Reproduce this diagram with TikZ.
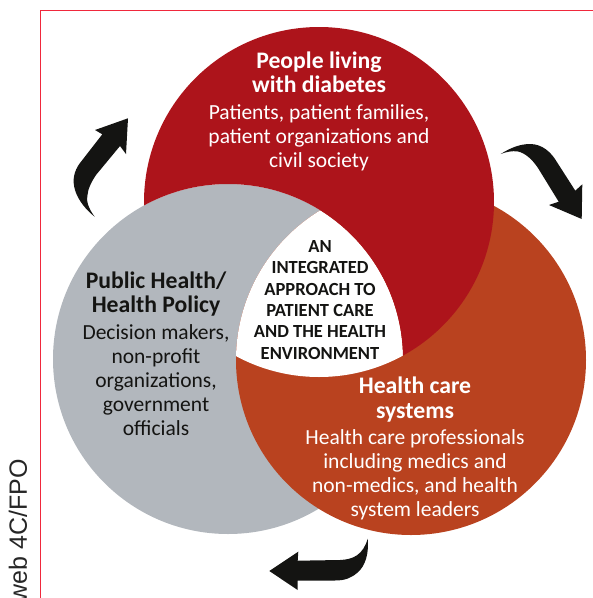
\documentclass[tikz,border=0pt]{standalone}
\usepackage{fontspec}
\setmainfont{Carlito}
\newfontfamily\arialfont{Liberation Sans}
\definecolor{cred}{HTML}{AD141B}
\definecolor{cgrey}{HTML}{B2B7BD}
\definecolor{corange}{HTML}{B9421F}
\definecolor{cblack}{HTML}{141412}
\definecolor{cborder}{HTML}{F0283C}
\tikzset{
  headtext/.style={align=center,anchor=base,inner sep=0pt,font=\fontsize{23.7}{24.4}\selectfont\bfseries},
  bodytext/.style={align=center,anchor=base,inner sep=0pt,font=\fontsize{21.5}{24}\selectfont},
  centertext/.style={align=center,anchor=base,inner sep=0pt,text=cblack,font=\fontsize{18.5}{21.4}\selectfont\bfseries},
  turnarrow/.style={fill=cblack,draw=none},
}
\begin{document}
\begin{tikzpicture}[x=1pt,y=-1pt]
\useasboundingbox (0,0) rectangle (593,598);
\def\redc{(319,202) circle[radius=175]}
\def\greyc{(228,359) circle[radius=175]}
\def\orangec{(411,360) circle[radius=175]}
\draw[cborder,line width=1.1pt] (40.5,598) -- (40.5,10.3) -- (593,10.3);
\fill[cgrey] \greyc;
\fill[corange] \orangec;
\begin{scope}
  \clip \redc;
  \clip \greyc;
  \fill[white] \orangec;
\end{scope}
\begin{scope}[even odd rule]
  \clip (-10,-10) rectangle (610,610) \greyc;
  \fill[cred] \redc;
\end{scope}
% arrows
\fill[turnarrow] (128,118.3) -- (95,130) -- (102.3,134.3) -- (80,163)
  .. controls (74,171) and (72,180) .. (75,190)
  .. controls (78,200) and (86,210) .. (94.7,216.7)
  .. controls (88,208) and (86,200) .. (87.5,195)
  .. controls (88,188) and (92,181) .. (96,175)
  -- (120,146) -- (126,154) -- cycle;
\fill[turnarrow] (500.7,154)
  .. controls (510,148) and (520,144) .. (530,144)
  .. controls (542,144) and (551,152) .. (556.7,161.7)
  -- (575.3,190.7) -- (582.3,184.3) -- (581.7,219) -- (549,205) -- (558.7,201.7)
  -- (538,168)
  .. controls (532,159) and (525,153) .. (518,151.5)
  .. controls (512,150.5) and (506,152) .. (500.7,154) -- cycle;
\fill[turnarrow] (367.7,538.7)
  .. controls (369,552) and (366,566) .. (357,573)
  .. controls (351,578) and (345,580.5) .. (335,580.5)
  -- (297.7,580.7) -- (297.7,590) -- (269.3,571) -- (298.3,551.7) -- (297.7,560.7)
  -- (340,560)
  .. controls (353,559.5) and (363,555) .. (367.7,538.7) -- cycle;
% text
\node[headtext,text=white] (redhead) at (319,92.7) {People living\\with diabetes};
\node[bodytext,text=white] (redbody) at (319,167.7) {Patients, patient families,\\patient organizations and\\civil society};
\node[headtext,text=cblack] (greyhead) at (156,312.7) {Public Health/\\Health Policy};
\node[bodytext,text=cblack] (greybody) at (156,435) {Decision makers,\\non-profit\\organizations,\\government\\officials};
\node[headtext,text=white] (orangehead) at (415,418.3) {Health care\\systems};
\node[bodytext,text=white] (orangebody) at (415,516.7) {Health care professionals\\including medics and\\non-medics, and health\\system leaders};
\node[centertext] (centerlabel) at (320,359.3) {AN\\INTEGRATED\\APPROACH TO\\PATIENT CARE\\AND THE HEALTH\\ENVIRONMENT};
\node[rotate=90,anchor=base east,inner sep=0pt,text=black!85,font=\arialfont\fontsize{25}{25}\selectfont] (fpo) at (27,459) {web 4C/FPO};
\end{tikzpicture}
\end{document}
